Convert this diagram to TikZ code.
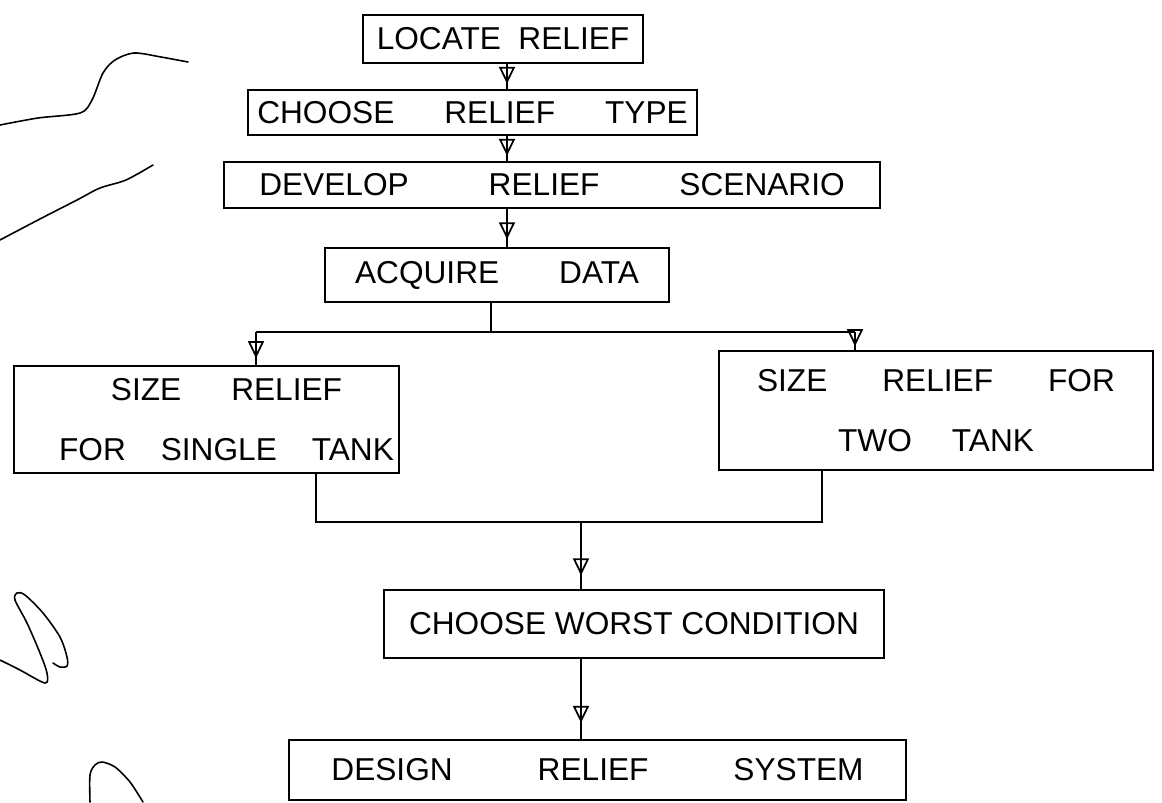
\documentclass[tikz,border=0pt]{standalone}
\usepackage{fontspec}
\setmainfont{Liberation Sans}
\usepackage{tikz}
\usetikzlibrary{arrows.meta,decorations.markings,calc}
% wide gap between handwritten words
\newcommand{\wgap}[1]{\hspace{#1cm}}
\tikzset{
  % box round each stage of the procedure
  stage box/.style={draw, line width=1.4pt, inner sep=0pt,
    font=\fontsize{18pt}{22pt}\selectfont, align=center},
  % plain connector line
  flow/.style={line width=1pt},
  % style to add an open arrow head near the end of a path
  direct arrow/.style={postaction={decorate,decoration={
        markings,
        mark=at position .8 with {\arrow{Triangle[open,length=0.34cm,width=0.32cm]}}
      }}},
  % loose pen strokes in the margin
  scribble/.style={line width=0.9pt, line cap=round},
}

\begin{document}
\begin{tikzpicture}
\useasboundingbox (0,0) rectangle (23.24,-16.04);

% Stages
\node[stage box, minimum width=5.6cm, minimum height=0.96cm] (locate) at (10.06,-0.78)
  {LOCATE\wgap{0.35}RELIEF};
\node[stage box, minimum width=8.98cm, minimum height=0.9cm] (type) at (9.45,-2.25)
  {CHOOSE\wgap{1.0}RELIEF\wgap{1.0}TYPE};
\node[stage box, minimum width=13.12cm, minimum height=0.92cm] (scenario) at (11.04,-3.70)
  {DEVELOP\wgap{1.6}RELIEF\wgap{1.6}SCENARIO};
\node[stage box, minimum width=6.88cm, minimum height=1.08cm] (data) at (9.94,-5.50)
  {ACQUIRE\wgap{1.2}DATA};
\node[stage box, minimum width=7.7cm, minimum height=2.14cm] (single) at (4.13,-8.39)
  {\hspace*{0.8cm}SIZE\wgap{1.0}RELIEF\\[0.44cm]\hspace*{0.8cm}FOR\wgap{0.7}SINGLE\wgap{0.7}TANK};
\node[stage box, minimum width=8.68cm, minimum height=2.38cm] (two) at (18.72,-8.21)
  {SIZE\wgap{1.1}RELIEF\wgap{1.1}FOR\\[0.44cm]TWO\wgap{0.8}TANK};
\node[stage box, minimum width=10.0cm, minimum height=1.36cm] (worst) at (12.68,-12.48)
  {CHOOSE WORST CONDITION};
\node[stage box, minimum width=12.34cm, minimum height=1.2cm] (design) at (11.95,-15.40)
  {DESIGN\wgap{1.7}RELIEF\wgap{1.7}SYSTEM};

% Main line down the top stages
\coordinate (spine) at (10.14,0);
\draw[flow, direct arrow] (locate.south -| spine) -- (type.north -| spine);
\draw[flow, direct arrow] (type.south -| spine) -- (scenario.north -| spine);
\draw[flow, direct arrow] (scenario.south -| spine) -- (data.north -| spine);

% Split into the two sizing cases
\coordinate (fork) at (9.82,-6.64);
\coordinate (fork left) at (5.12,-6.64);
\coordinate (fork right) at (17.10,-6.64);
\draw[flow] (data.south -| fork) -- (fork);
\draw[flow] (fork left) -- (fork right);
\draw[flow, direct arrow] (fork left) -- (single.north -| fork left);
\draw[flow, direct arrow] (fork right) -- (two.north -| fork right);

% Join again and finish
\coordinate (merge left) at (6.32,-10.44);
\coordinate (merge right) at (16.44,-10.44);
\coordinate (merge) at (11.62,-10.44);
\draw[flow] (single.south -| merge left) -- (merge left) -- (merge right) -- (two.south -| merge right);
\draw[flow, direct arrow] (merge) -- (worst.north -| merge);
\draw[flow, direct arrow] (worst.south -| merge) -- (design.north -| merge);

% Margin strokes
\draw[scribble] plot[smooth] coordinates {(0,-2.5) (0.76,-2.36) (1.6,-2.26) (1.84,-2.0)
  (2.06,-1.46) (2.3,-1.2) (2.68,-1.06) (3.22,-1.14) (3.76,-1.24)};
\draw[scribble] plot[smooth] coordinates {(0,-4.8) (0.76,-4.4) (1.54,-4.0) (2.0,-3.76)
  (2.52,-3.6) (3.06,-3.3)};
\draw[scribble] plot[smooth] coordinates {(0,-13.2) (0.4,-13.4) (0.9,-13.66) (0.94,-13.46)
  (0.8,-13.06) (0.54,-12.46) (0.3,-12.0) (0.34,-11.86) (0.5,-11.9) (0.86,-12.26)
  (1.2,-12.74) (1.34,-13.14) (1.34,-13.32) (1.2,-13.34) (1.06,-13.26)};
\draw[scribble] plot[smooth] coordinates {(1.8,-16.04) (1.8,-15.5) (1.9,-15.3) (2.04,-15.24)
  (2.3,-15.34) (2.6,-15.64) (2.86,-16.04)};

\end{tikzpicture}
\end{document}
